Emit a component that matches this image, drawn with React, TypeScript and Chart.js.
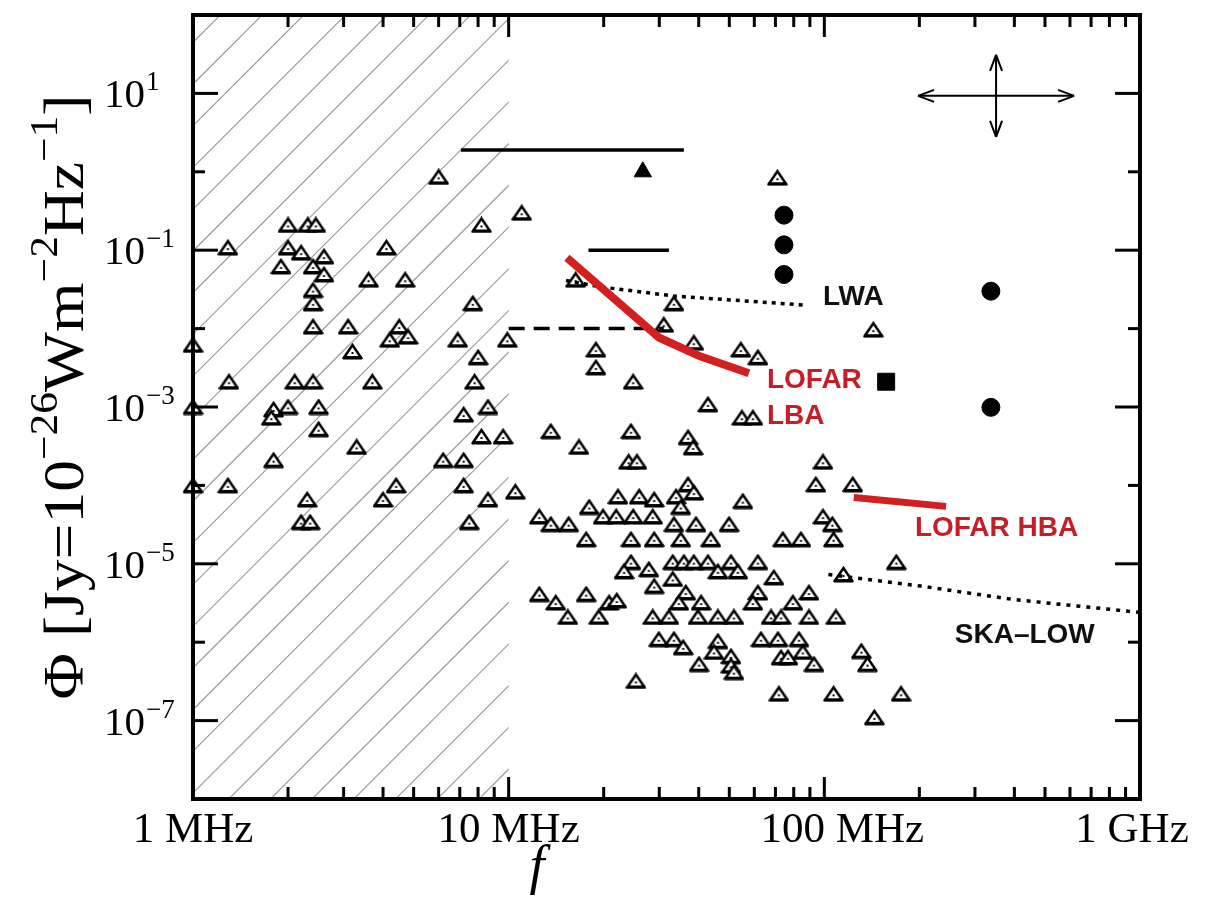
import React, { useEffect, useRef } from 'react';
import { Chart, registerables } from 'chart.js';

Chart.register(...registerables);

// ---------- axes / ticks ----------
const xRange: [number, number] = [1, 1000]; // MHz
const yRange: [number, number] = [1e-8, 1e2]; // Jy
const xTickValues = [1, 10, 100, 1000];
const xTickLabels = ['1 MHz', '10 MHz', '100 MHz', '1 GHz'];
const yTickExponents = [1, -1, -3, -5, -7];
const hatchRange: [number, number] = [1, 10]; // ionospheric cut-off region (MHz)

// ---------- data: [frequency MHz, flux density Jy] ----------
const openTriangles: [number, number][] = [
  [1.0, 6.2e-3], [1.29, 0.108], [1.3, 2.1e-3], [1.0, 1.0e-3], [1.0, 1.0e-4], [1.29, 1.0e-4],
  [6.0, 0.86], [2.0, 0.21], [2.31, 0.21], [2.45, 0.21], [8.2, 0.21], [2.0, 0.108],
  [2.2, 0.093], [2.6, 0.083], [1.9, 0.062], [2.4, 0.062], [2.6, 0.049], [2.4, 0.031],
  [2.4, 0.021], [4.1, 0.108], [3.6, 0.042], [4.7, 0.042], [7.7, 0.021], [2.4, 0.0106],
  [3.1, 0.0106], [4.5, 0.0106], [4.2, 0.0072], [4.8, 0.0079], [6.9, 0.0072], [9.9, 0.0072],
  [3.2, 0.0051], [8.0, 0.0043], [2.1, 0.0021], [2.4, 0.0021], [3.7, 0.0021], [7.8, 0.0021],
  [1.8, 9.3e-4], [2.0, 1.0e-3], [1.77, 7.3e-4], [2.5, 1.0e-3], [7.2, 8.0e-4], [8.6, 1.0e-3],
  [2.5, 5.2e-4], [3.3, 3.1e-4], [8.2, 4.2e-4], [9.6, 4.2e-4], [1.8, 2.1e-4], [6.2, 2.1e-4],
  [7.2, 2.1e-4], [4.4, 1.0e-4], [7.2, 1.0e-4], [10.5, 8.3e-5], [2.3, 6.6e-5], [4.0, 6.6e-5],
  [8.6, 6.6e-5], [2.2, 3.4e-5], [2.35, 3.4e-5], [7.5, 3.4e-5],
  [11.0, 0.30], [71, 0.84], [16.3, 0.042], [33.4, 0.021], [31, 0.0112], [18.9, 0.0054],
  [18.9, 0.0032], [38.6, 0.0066], [54.4, 0.0054], [61.6, 0.0043], [24.8, 0.0021], [143, 0.0097],
  [42.8, 1.08e-3], [54.8, 7.3e-4], [59.4, 7.3e-4], [13.6, 4.9e-4], [24.4, 4.9e-4], [37, 4.1e-4],
  [38.4, 3.05e-4], [16.7, 3.1e-4], [24.0, 2.0e-4], [25.5, 2.0e-4], [99, 2.0e-4], [94, 1.03e-4],
  [123, 1.03e-4], [22.2, 7.2e-5], [25.9, 7.2e-5], [28.9, 6.6e-5], [33.9, 7.2e-5], [37, 1.03e-4],
  [38.6, 8.1e-5], [55.2, 6.3e-5], [18.0, 5.3e-5], [19.9, 4.0e-5], [21.9, 4.0e-5], [24.8, 4.0e-5],
  [28.6, 4.0e-5], [35.1, 5.3e-5], [12.5, 4.0e-5], [13.6, 3.2e-5], [15.5, 3.2e-5], [33.4, 3.2e-5],
  [39.2, 3.2e-5], [49.9, 3.2e-5], [99, 4.0e-5], [106, 3.2e-5], [17.6, 2.05e-5], [24.4, 2.05e-5],
  [28.9, 2.05e-5], [35.1, 2.05e-5], [43.7, 2.05e-5], [73.9, 2.05e-5], [84.3, 2.05e-5], [107, 2.05e-5],
  [24.4, 1.05e-5], [23.2, 8.0e-6], [27.8, 8.5e-6], [33.1, 1.05e-5], [35.9, 1.05e-5], [38.6, 1.05e-5],
  [42.8, 1.05e-5], [50.6, 1.05e-5], [46, 8.0e-6], [53.2, 8.0e-6], [61.6, 1.05e-5], [69.2, 6.7e-6],
  [12.5, 4.1e-6], [14.1, 3.2e-6], [15.4, 2.1e-6], [17.6, 4.1e-6], [19.3, 2.1e-6], [20.8, 3.2e-6],
  [22.0, 3.4e-6], [28.9, 5.2e-6], [33.1, 6.4e-6], [36.4, 4.3e-6], [34.6, 3.2e-6], [40.7, 3.2e-6],
  [28.6, 2.1e-6], [32.2, 2.1e-6], [39.8, 2.1e-6], [46, 2.1e-6], [51.7, 2.1e-6], [61.6, 4.3e-6],
  [59.4, 3.2e-6], [67.8, 2.1e-6], [72.9, 2.1e-6], [79.5, 3.2e-6], [89.4, 4.3e-6], [89.4, 2.1e-6],
  [108.8, 2.1e-6], [29.9, 1.09e-6], [33.4, 1.09e-6], [35.7, 8.6e-7], [46, 1.03e-6], [44.7, 7.5e-7],
  [50.6, 6.6e-7], [40.1, 5.25e-7], [50.6, 5.0e-7], [51.7, 4.15e-7], [63, 1.09e-6], [71.3, 1.09e-6],
  [83.1, 1.09e-6], [72.9, 6.4e-7], [76.7, 6.4e-7], [85.5, 7.5e-7], [92.7, 5.25e-7], [25.3, 3.2e-7],
  [71.8, 2.2e-7], [107, 2.2e-7], [169, 1.05e-5], [115, 7.3e-6], [131, 7.7e-7], [137, 5.25e-7],
  [175, 2.2e-7], [144, 1.1e-7],
];
const filledTriangles: [number, number][] = [[26.6, 1.0]];
const filledCircles: [number, number][] = [[74.5, 0.28], [74.5, 0.117], [74.5, 0.049], [337, 0.030], [337, 9.9e-4]];
const filledSquares: [number, number][] = [[157, 2.1e-3]];
const upperLimitHigh: [number, number][] = [[7.06, 1.9], [35.9, 1.9]];
const upperLimitLow: [number, number][] = [[17.9, 0.1], [32.2, 0.1]];
const dashedLimit: [number, number][] = [[10, 0.01], [31, 0.01]];
const lwaSensitivity: [number, number][] = [[15.2, 0.041], [19.6, 0.034], [33.4, 0.026], [86, 0.020]];
const lofarLba: [number, number][] = [[15.3, 0.080], [29.9, 0.0077], [40.6, 0.0044], [57.7, 0.0027]];
const lofarHba: [number, number][] = [[124, 7.0e-5], [243, 5.4e-5]];
const skaLow: [number, number][] = [[103, 7.3e-6], [202, 5.2e-6], [398, 3.5e-6], [1000, 2.4e-6]];

const annotationTexts = ['LWA', 'LOFAR', 'LBA', 'LOFAR HBA', 'SKA\u2013LOW'];
const annotationAnchors: [number, number][] = [[99, 0.025], [65.8, 0.00218], [65.8, 7.57e-4], [193.6, 2.83e-5], [259, 1.23e-6]];
const annotationColors = ['#111111', '#c41e26', '#c41e26', '#c41e26', '#111111'];
const crossArrowCenter: [number, number] = [350, 9.3];

const toXY = (arr: [number, number][]) => arr.map(([f, p]) => ({ x: f, y: p }));

function makeTriangleSprite(): HTMLCanvasElement {
  const c = document.createElement('canvas');
  c.width = 21;
  c.height = 17;
  const g = c.getContext('2d')!;
  g.fillStyle = '#ffffff';
  g.strokeStyle = '#000000';
  g.lineWidth = 2.5;
  g.lineJoin = 'miter';
  g.beginPath();
  g.moveTo(2, 14.5);
  g.lineTo(10.5, 2);
  g.lineTo(19, 14.5);
  g.closePath();
  g.fill();
  g.stroke();
  g.fillStyle = '#000000';
  g.fillRect(1, 13, 19, 3.5);
  g.fillRect(9.5, 9, 2, 2);
  return c;
}

const serif = '"Liberation Serif", "DejaVu Serif", serif';
const sans = '"Liberation Sans", Arial, sans-serif';

const decorPlugin = {
  id: 'decor',
  beforeDatasetsDraw(chart: any) {
    const { ctx, chartArea: a, scales } = chart;
    const xs = scales.x;
    const x0 = xs.getPixelForValue(hatchRange[0]);
    const x1 = xs.getPixelForValue(hatchRange[1]);
    ctx.save();
    ctx.beginPath();
    ctx.rect(x0, a.top, x1 - x0, a.bottom - a.top);
    ctx.clip();
    ctx.strokeStyle = '#959595';
    ctx.lineWidth = 1.1;
    const step = 41.7;
    const kStart = x0 + a.bottom - 6;
    const kMin = x0 + a.top;
    const kMax = x1 + a.bottom;
    const n0 = Math.ceil((kMin - kStart) / step);
    for (let k = kStart + n0 * step; k <= kMax + step; k += step) {
      ctx.beginPath();
      ctx.moveTo(x0 - 5, k - (x0 - 5));
      ctx.lineTo(x1 + 5, k - (x1 + 5));
      ctx.stroke();
    }
    ctx.restore();
  },
  afterDatasetsDraw(chart: any) {
    const { ctx, chartArea: a, scales } = chart;
    const xs = scales.x;
    const ys = scales.y;
    ctx.save();
    const line = (ax: number, ay: number, bx: number, by: number) => {
      ctx.beginPath();
      ctx.moveTo(ax, ay);
      ctx.lineTo(bx, by);
      ctx.stroke();
    };
    ctx.strokeStyle = '#000';
    ctx.lineWidth = 3;
    const eMin = Math.round(Math.log10(yRange[0]));
    const eMax = Math.round(Math.log10(yRange[1]));
    for (let e = eMin + 1; e < eMax; e++) {
      const yp = ys.getPixelForValue(Math.pow(10, e));
      const len = e % 2 !== 0 ? 25 : 12;
      line(a.left, yp, a.left + len, yp);
      line(a.right, yp, a.right - len, yp);
    }
    const dMin = Math.round(Math.log10(xRange[0]));
    const dMax = Math.round(Math.log10(xRange[1]));
    for (let d = dMin; d < dMax; d++) {
      for (let m = 1; m <= 9; m++) {
        const v = m * Math.pow(10, d);
        if (v <= xRange[0]) continue;
        const xp = xs.getPixelForValue(v);
        const len = m === 1 ? 22 : 12;
        line(xp, a.bottom, xp, a.bottom - len);
        line(xp, a.top, xp, a.top + len);
      }
    }
    ctx.lineWidth = 4;
    ctx.strokeRect(a.left, a.top, a.right - a.left, a.bottom - a.top);

    // x tick labels
    ctx.fillStyle = '#000';
    ctx.font = `43px ${serif}`;
    ctx.textAlign = 'center';
    ctx.textBaseline = 'alphabetic';
    const xShift = [0, 0, 18, -8];
    xTickValues.forEach((v, i) => {
      ctx.fillText(xTickLabels[i], xs.getPixelForValue(v) + xShift[i], a.bottom + 43);
    });

    // y tick labels with superscripts
    ctx.textAlign = 'left';
    yTickExponents.forEach((e) => {
      const yp = ys.getPixelForValue(Math.pow(10, e));
      const bx = a.left - 89;
      ctx.font = `41px ${serif}`;
      ctx.fillText('10', bx, yp + 14);
      const w = ctx.measureText('10').width;
      ctx.font = `27px ${serif}`;
      const expText = e < 0 ? '\u2212' + String(-e) : String(e);
      ctx.fillText(expText, bx + w + 1, yp - 3);
    });

    // x title
    ctx.font = `italic 54px ${serif}`;
    ctx.textAlign = 'center';
    ctx.fillText('f', a.left + 344, a.bottom + 84);

    // y title (rotated, with superscripts)
    const segs = [
      { t: '\u03A6 [Jy=10', s: false },
      { t: '\u221226', s: true },
      { t: 'Wm', s: false },
      { t: '\u22122', s: true },
      { t: 'Hz', s: false },
      { t: '\u22121', s: true },
      { t: ']', s: false },
    ];
    const baseFont = `57px ${serif}`;
    const supFont = `39px ${serif}`;
    let total = 0;
    const widths = segs.map((sg) => {
      ctx.font = sg.s ? supFont : baseFont;
      const w = ctx.measureText(sg.t).width;
      total += w;
      return w;
    });
    const target = 605;
    const sx = target / total;
    ctx.save();
    ctx.translate(83, (a.top + a.bottom) / 2 - 10);
    ctx.rotate(-Math.PI / 2);
    ctx.scale(sx, 1);
    ctx.textAlign = 'left';
    let cx = -total / 2;
    segs.forEach((sg, i) => {
      ctx.font = sg.s ? supFont : baseFont;
      ctx.fillText(sg.t, cx, sg.s ? -26 : 0);
      cx += widths[i];
    });
    ctx.restore();

    // annotations
    ctx.textAlign = 'left';
    ctx.textBaseline = 'middle';
    ctx.font = `bold 28px ${sans}`;
    annotationTexts.forEach((t, i) => {
      const [f, p] = annotationAnchors[i];
      ctx.fillStyle = annotationColors[i];
      ctx.fillText(t, xs.getPixelForValue(f), ys.getPixelForValue(p));
    });

    // double-headed cross arrows (top right)
    const ax = xs.getPixelForValue(crossArrowCenter[0]);
    const ay = ys.getPixelForValue(crossArrowCenter[1]);
    ctx.strokeStyle = '#000';
    ctx.lineWidth = 2;
    const hx = 78;
    const hy = 41;
    line(ax - hx, ay, ax + hx, ay);
    line(ax, ay - hy, ax, ay + hy);
    const head = 16;
    const spread = 6;
    line(ax - hx, ay, ax - hx + head, ay - spread);
    line(ax - hx, ay, ax - hx + head, ay + spread);
    line(ax + hx, ay, ax + hx - head, ay - spread);
    line(ax + hx, ay, ax + hx - head, ay + spread);
    line(ax, ay - hy, ax - spread, ay - hy + head);
    line(ax, ay - hy, ax + spread, ay - hy + head);
    line(ax, ay + hy, ax - spread, ay + hy - head);
    line(ax, ay + hy, ax + spread, ay + hy - head);
    ctx.restore();
  },
};

export default function App() {
  const canvasRef = useRef<HTMLCanvasElement | null>(null);

  useEffect(() => {
    if (!canvasRef.current) return;
    const sprite = makeTriangleSprite();
    const lineDs = (label: string, data: [number, number][], color: string, width: number, dash: number[] = []) => ({
      label,
      data: toXY(data),
      showLine: true,
      borderColor: color,
      backgroundColor: color,
      borderWidth: width,
      borderDash: dash,
      pointRadius: 0,
      tension: 0,
      fill: false,
      borderCapStyle: 'butt',
      borderJoinStyle: 'round',
    });
    const chart = new Chart(canvasRef.current, {
      type: 'scatter',
      data: {
        datasets: [
          lineDs('LOFAR LBA', lofarLba, '#d21f1f', 8),
          lineDs('LOFAR HBA', lofarHba, '#d21f1f', 7),
          lineDs('LWA', lwaSensitivity, '#000', 3.5, [4, 5]),
          lineDs('SKA-LOW', skaLow, '#000', 3.5, [4, 6]),
          lineDs('Upper limit (high)', upperLimitHigh, '#000', 3.5),
          lineDs('Upper limit (low)', upperLimitLow, '#000', 3.5),
          lineDs('Limit 10 MHz', dashedLimit, '#000', 3.5, [16, 9]),
          {
            label: 'Detections (filled triangle)',
            data: toXY(filledTriangles),
            pointStyle: 'triangle',
            pointRadius: 10,
            backgroundColor: '#000',
            borderColor: '#000',
            borderWidth: 1,
          },
          {
            label: 'Circles',
            data: toXY(filledCircles),
            pointStyle: 'circle',
            pointRadius: 9,
            backgroundColor: '#000',
            borderColor: '#000',
            borderWidth: 1,
          },
          {
            label: 'Square',
            data: toXY(filledSquares),
            pointStyle: 'rect',
            pointRadius: 12,
            backgroundColor: '#000',
            borderColor: '#000',
            borderWidth: 1,
          },
          {
            label: 'Exoplanet predictions',
            data: toXY(openTriangles),
            pointStyle: sprite,
            pointRadius: 9,
            clip: false,
          },
        ] as any,
      },
      options: {
        animation: false,
        responsive: false,
        devicePixelRatio: 1,
        events: [],
        layout: { padding: { left: 0, top: 15, right: 65, bottom: 0 } },
        plugins: { legend: { display: false }, tooltip: { enabled: false } },
        scales: {
          x: {
            type: 'logarithmic',
            min: xRange[0],
            max: xRange[1],
            ticks: { display: false },
            grid: { display: false },
            border: { display: false },
            afterFit: (s: any) => {
              s.height = 106;
            },
          },
          y: {
            type: 'logarithmic',
            min: yRange[0],
            max: yRange[1],
            ticks: { display: false },
            grid: { display: false },
            border: { display: false },
            afterFit: (s: any) => {
              s.width = 193;
            },
          },
        },
      } as any,
      plugins: [decorPlugin],
    });
    return () => chart.destroy();
  }, []);

  return (
    <div style={{ position: 'fixed', left: 0, top: 0, width: 1205, height: 905, background: '#fff' }}>
      <canvas ref={canvasRef} width={1205} height={905} style={{ display: 'block' }} />
    </div>
  );
}
